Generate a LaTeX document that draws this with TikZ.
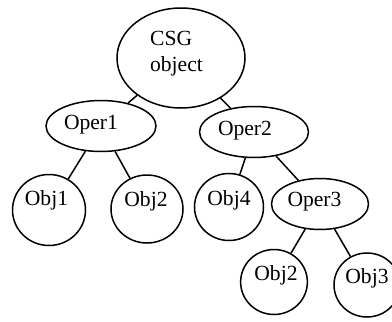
\documentclass[tikz,border=0pt]{standalone}
\usepackage{fontspec}
\setmainfont{Liberation Serif}
\usetikzlibrary{shapes.geometric}
\tikzset{
	operstyle/.style={ellipse, draw=black, line width=0.75pt, inner sep=0pt},
	objstyle/.style={ellipse, draw=black, line width=0.75pt, inner sep=0pt},
	nudge/.style 2 args={execute at begin node={\hspace*{#1}}, text height=7.5pt, text depth=#2},
	treeedge/.style={draw=black, line width=0.75pt}
}

\begin{document}
\begin{tikzpicture}[x=0.5pt, y=-0.5pt, font=\fontsize{10.8}{13}\selectfont]

\useasboundingbox (0,0) rectangle (392,322);

\node[operstyle, minimum width=64pt, minimum height=50pt, text height=9.1pt, text depth=21.9pt] (root) at (181, 58)
	{\hspace*{-4.5pt}\begin{tabular}[t]{@{}l@{}}CSG\\object\end{tabular}};

\node[operstyle, minimum width=55pt, minimum height=25.5pt, nudge={-10pt}{4.5pt}]  (op1) at (101, 126) {Oper1};
\node[operstyle, minimum width=54.5pt, minimum height=25.5pt, nudge={-9pt}{4.5pt}] (op2) at (254, 132) {Oper2};
\node[operstyle, minimum width=48.5pt, minimum height=25.5pt, nudge={-5.5pt}{5pt}] (op3) at (320, 204) {Oper3};

\node[objstyle, minimum width=36.5pt, minimum height=35.5pt, nudge={-2.5pt}{12.5pt}] (ob1) at (49, 210)  {Obj1};
\node[objstyle, minimum width=36pt, minimum height=34pt, nudge={-1pt}{10pt}]         (ob2) at (147, 209) {Obj2};
\node[objstyle, minimum width=34.5pt, minimum height=33.5pt, nudge={0pt}{9pt}]       (ob4) at (229, 207) {Obj4};
\node[objstyle, minimum width=32pt, minimum height=32.5pt, nudge={2pt}{9pt}]         (ob5) at (274, 282) {Obj2};
\node[objstyle, minimum width=33pt, minimum height=32pt, nudge={0pt}{9pt}]           (ob3) at (367, 285) {Obj3};

\path[treeedge] (root)--(op1);
\path[treeedge] (root)--(op2);
\path[treeedge] (op1)--(ob1);
\path[treeedge] (op1)--(ob2);
\path[treeedge] (op2)--(ob4);
\path[treeedge] (op2)--(op3);
\path[treeedge] (op3)--(ob5);
\path[treeedge] (op3)--(ob3);
\end{tikzpicture}
\end{document}
